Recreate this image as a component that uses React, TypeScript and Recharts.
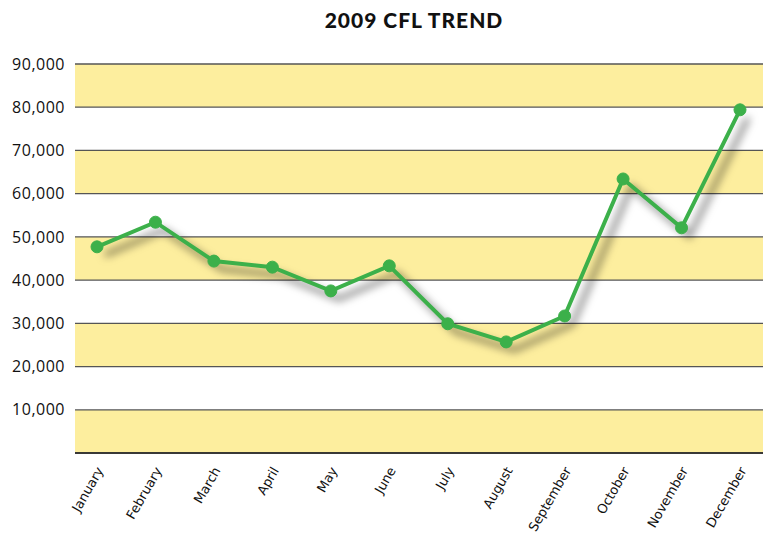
import React from "react";
import {
  CartesianGrid,
  Line,
  LineChart,
  XAxis,
  YAxis,
} from "recharts";

const months = [
  "January",
  "February",
  "March",
  "April",
  "May",
  "June",
  "July",
  "August",
  "September",
  "October",
  "November",
  "December",
];
const cflSales = [
  47700, 53400, 44400, 43000, 37500, 43300, 29900, 25700, 31700, 63400, 52100, 79400,
];
const yTicks = [0, 10000, 20000, 30000, 40000, 50000, 60000, 70000, 80000, 90000];

const data = months.map((month, i) => ({ month, sales: cflSales[i] }));

const fmtThousands = (v: number) => (v === 0 ? "" : v.toLocaleString("en-US"));

function MonthTick({ x, y, payload }: any) {
  return (
    <g transform={`translate(${x + 3},${y + 7})`}>
      <text
        x={0}
        y={0}
        dy="0.35em"
        textAnchor="end"
        transform="rotate(-60)"
        fill="#111"
        fontSize={13}
        fontFamily="'DejaVu Sans', sans-serif"
      >
        {payload.value}
      </text>
    </g>
  );
}

export default function App() {
  return (
    <div
      style={{
        position: "absolute",
        left: 0,
        top: 0,
        width: 763,
        height: 533,
        background: "#fff",
      }}
    >
      <style>{`.cfl-line { filter: drop-shadow(8px 8px 4px rgba(0,0,0,0.6)); }`}</style>
      <div
        style={{
          position: "absolute",
          top: 7,
          left: 0,
          width: 828,
          textAlign: "center",
          fontFamily: "Lato, 'Open Sans', sans-serif",
          fontWeight: 900,
          fontSize: 21,
          letterSpacing: 1,
          color: "#111",
        }}
      >
        2009 CFL TREND
      </div>
      <LineChart
        width={763}
        height={533}
        data={data}
        margin={{ top: 64, right: 0, bottom: 0, left: 0 }}
      >
        <CartesianGrid
          vertical={false}
          stroke="#555"
          strokeWidth={1.3}
          strokeOpacity={1}
          horizontalFill={["#fdee9e", "#ffffff"]}
          fillOpacity={1}
        />
        <XAxis
          dataKey="month"
          height={80}
          interval={0}
          padding={{ left: 22, right: 23 }}
          tickLine={false}
          axisLine={{ stroke: "#222", strokeWidth: 1.5 }}
          tick={<MonthTick />}
        />
        <YAxis
          width={75}
          domain={[0, 90000]}
          ticks={yTicks}
          tickFormatter={fmtThousands}
          axisLine={false}
          tickLine={false}
          tickMargin={4}
          tick={{
            fill: "#111",
            fontSize: 16,
            letterSpacing: 0.5,
            fontFamily: "'Open Sans', sans-serif",
          }}
        />
        <Line
          className="cfl-line"
          type="linear"
          dataKey="sales"
          stroke="#3cb04a"
          strokeWidth={4}
          dot={{ r: 6, fill: "#3cb04a", stroke: "#3cb04a", strokeWidth: 1 }}
          isAnimationActive={false}
        />
      </LineChart>
    </div>
  );
}
